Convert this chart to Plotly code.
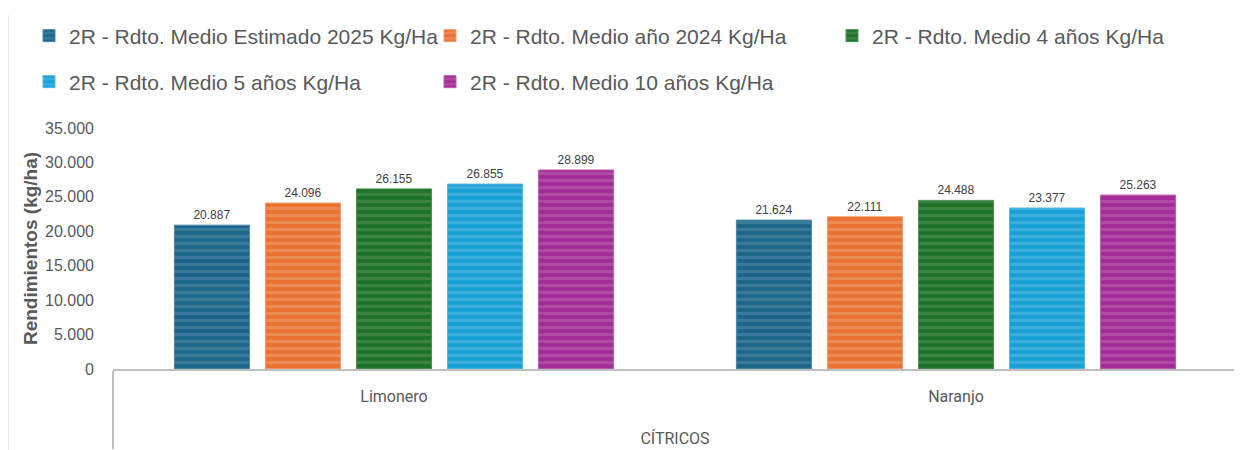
import plotly.graph_objects as go

# categories (outer group / crop)
groups = ["CÍTRICOS", "CÍTRICOS"]
crops = ["Limonero", "Naranjo"]

series_names = [
    "2R - Rdto. Medio Estimado 2025 Kg/Ha",
    "2R - Rdto. Medio año 2024 Kg/Ha",
    "2R - Rdto. Medio 4 años Kg/Ha",
    "2R - Rdto. Medio 5 años Kg/Ha",
    "2R - Rdto. Medio 10 años Kg/Ha",
]
est_2025 = [20887, 21624]
year_2024 = [24096, 22111]
avg_4y = [26155, 24488]
avg_5y = [26855, 23377]
avg_10y = [28899, 25263]
series_values = [est_2025, year_2024, avg_4y, avg_5y, avg_10y]

colors = ["#1d6589", "#e97132", "#1f7229", "#1aa0d6", "#a22c96"]
stripe = ["#4a87a5", "#f09a68", "#4a8f52", "#52b8e2", "#b85cae"]

# the page body adds an 8px offset, so the figure is a bit smaller than the window
OFF = 8
W, H = 1242 - OFF, 450 - OFF
# plot area in screen pixels: x 113..1237, y 128..369
L, T = 113 - OFF, 128 - OFF
R, B = W - (1237 - OFF), H - (369 - OFF)
pw, ph = W - L - R, H - T - B


def px_x(sx):
    return (sx - OFF - L) / pw


def px_y(sy):
    return (H - B - (sy - OFF)) / ph


# taller first-level label pushes the group label (CÍTRICOS) further down, as in Excel
crop_labels = [c + "<br><span style='font-size:44px'> </span>" for c in crops]

# legend slots: 3 in the first row, 2 in the second
# (first row kept low enough that the legend box stays inside the page and pushes no margin)
legend_pos = [(29, 36), (430, 36), (832, 36), (29, 82), (430, 82)]

fig = go.Figure()
legends = {}
for i, (name, vals) in enumerate(zip(series_names, series_values)):
    key = "legend" if i == 0 else f"legend{i + 1}"
    fig.add_trace(go.Bar(
        x=[groups, crop_labels],
        y=vals,
        name=name,
        legend=key,
        marker=dict(
            color=colors[i],
            line=dict(color=stripe[i], width=1),
            pattern=dict(shape="-", fgcolor=stripe[i], fgopacity=0.6, size=7, solidity=0.45),
        ),
        texttemplate="%{y:,.0f}",
        textposition="outside",
        textfont=dict(family="Liberation Sans", size=12, color="#404040"),
        cliponaxis=False,
    ))
    lx, ly = legend_pos[i]
    legends[key] = dict(
        x=px_x(lx), y=px_y(ly),
        xanchor="left", yanchor="middle",
        orientation="h",
        font=dict(family="Liberation Sans", size=21, color="#595959"),
        itemwidth=30,
        bgcolor="rgba(0,0,0,0)",
    )

fig.update_layout(
    width=W,
    height=H,
    margin=dict(l=L, r=R, t=T, b=B),
    paper_bgcolor="white",
    plot_bgcolor="white",
    separators=",.",
    barmode="group",
    bargap=0.19,
    bargroupgap=0.176,
    showlegend=True,
    annotations=[
        dict(
            text="Cítricos - Rendimientos Regadío (kg/ha)",
            xref="paper", yref="paper",
            x=px_x(1010), y=px_y(8),
            xanchor="right", yanchor="bottom",
            showarrow=False,
            font=dict(family="Liberation Sans", size=18, color="#174a6e", weight="bold"),
        )
    ],
    shapes=[
        dict(
            type="line", xref="paper", yref="paper",
            x0=px_x(8), x1=px_x(8), y0=px_y(15), y1=px_y(460),
            line=dict(color="#d9d9d9", width=1),
        )
    ],
    **legends,
)

fig.update_yaxes(
    range=[0, 35000],
    tickvals=[0, 5000, 10000, 15000, 20000, 25000, 30000, 35000],
    tickformat=",d",
    automargin=False,
    showgrid=False,
    zeroline=False,
    showline=False,
    ticks="",
    ticklabelstandoff=18,
    tickfont=dict(family="Liberation Sans", size=16, color="#595959"),
    title=dict(
        text="Rendimientos (kg/ha)",
        font=dict(family="Liberation Sans", size=19, color="#595959", weight="bold"),
        standoff=2,
    ),
)

fig.update_xaxes(
    automargin=False,
    showline=True,
    linecolor="#bfbfbf",
    linewidth=1.5,
    showgrid=False,
    ticks="",
    ticklabelstandoff=12,
    showdividers=True,
    dividercolor="#bfbfbf",
    dividerwidth=1.5,
    tickfont=dict(family="Roboto", size=16, color="#595959"),
)

fig.write_html("out.html")
